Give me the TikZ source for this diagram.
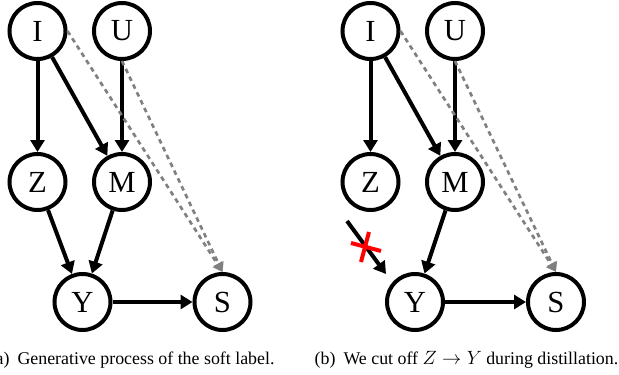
\documentclass[tikz,border=0pt]{standalone}
\usepackage{fontspec}
\setmainfont{Liberation Serif}
\usetikzlibrary{arrows.meta}

\tikzset{
  var/.style={circle,draw,line width=3pt,minimum size=42pt,inner sep=0pt,font=\fontsize{23}{27}\selectfont},
  dep/.style={-{Triangle[length=9pt,width=10.5pt]},line width=3pt},
  soft/.style={-{Triangle[length=7pt,width=8pt]},line width=2pt,gray,dash pattern=on 3.5pt off 3pt},
  cut/.style={red,line width=3pt},
  capt/.style={anchor=base west,font=\fontsize{13.4}{16}\selectfont}
}

\begin{document}
\begin{tikzpicture}[x=0.75pt,y=-0.75pt]
        \useasboundingbox (0,0) rectangle (619,375);
        % (a) generative process
        \node[var] (aI) at (37.5,31) {I};
        \node[var] (aU) at (122,31) {U};
        \node[var] (aZ) at (37.5,182) {Z};
        \node[var] (aM) at (122,182) {M};
        \node[var] (aY) at (82.5,302) {Y};
        \node[var] (aS) at (222.5,302) {S};
        \draw[dep] (aI) -- (aZ);
        \draw[dep] (aI) -- (aM);
        \draw[dep] (aU) -- (aM);
        \draw[dep] (aZ) -- (aY);
        \draw[dep] (aM) -- (aY);
        \draw[dep] (aY) -- (aS);
        \draw[soft] (aI.east) -- (aS.north);
        \draw[soft] (aU.south) -- (aS.north);
        \node[capt] (capa) at (-15,364) {(a)\hspace{6pt}Generative process of the soft label.};
        % (b) cut off Z -> Y
        \node[var] (bI) at (370.5,31) {I};
        \node[var] (bU) at (455,31) {U};
        \node[var] (bZ) at (370.5,182) {Z};
        \node[var] (bM) at (455,182) {M};
        \node[var] (bY) at (415,302) {Y};
        \node[var] (bS) at (556,302) {S};
        \draw[dep] (bI) -- (bZ);
        \draw[dep] (bI) -- (bM);
        \draw[dep] (bU) -- (bM);
        \draw[dep] (bM) -- (bY);
        \draw[dep] (bY) -- (bS);
        \draw[soft] (bI.east) -- (bS.north);
        \draw[soft] (bU.south) -- (bS.north);
        \coordinate (zcut) at (347,221);
        \coordinate (ztip) at (386,274);
        \draw[dep] (zcut) -- (ztip);
        \coordinate (xmark) at (365,247);
        \draw[cut] ([shift={(-14,-4)}]xmark) -- ([shift={(16,4)}]xmark);
        \draw[cut] ([shift={(4,-15)}]xmark) -- ([shift={(-4,15)}]xmark);
        \node[capt] (capb) at (310,364) {(b)\hspace{6pt}We cut off $Z \rightarrow Y$ during distillation.};
    \end{tikzpicture}
\end{document}
